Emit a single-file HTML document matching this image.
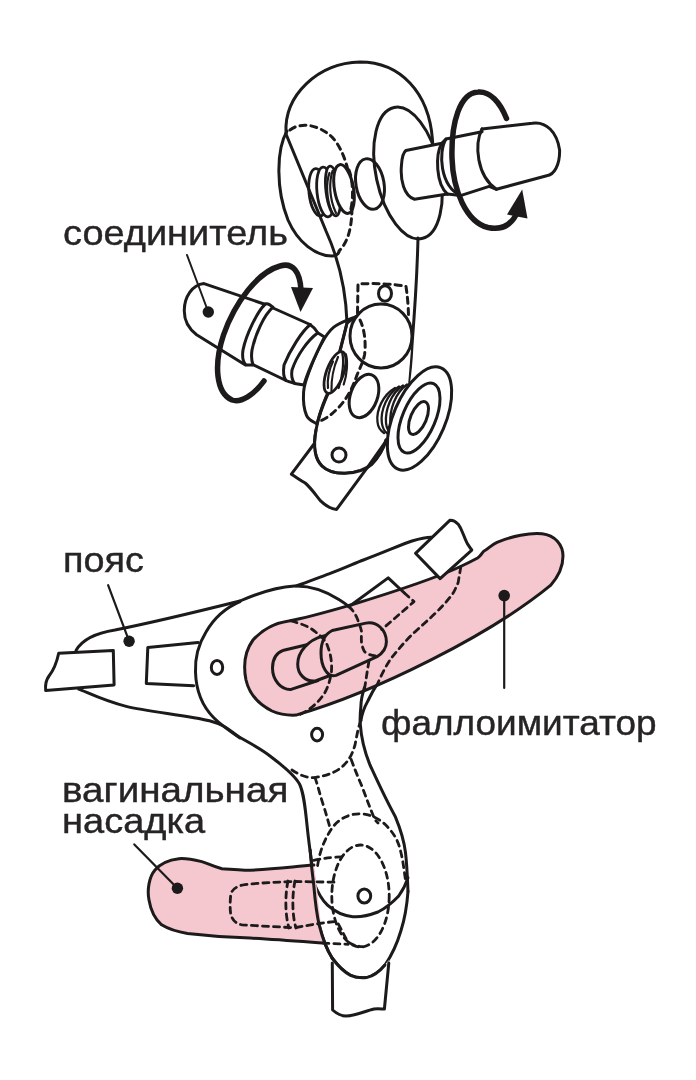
<!DOCTYPE html>
<html><head><meta charset="utf-8">
<style>
html,body{margin:0;padding:0;background:#fff;}
body{width:696px;height:1080px;overflow:hidden;position:relative;}
svg{position:absolute;left:0;top:0;}
.t{position:absolute;font-family:"Liberation Sans",sans-serif;font-size:35px;color:#262425;-webkit-text-stroke:0.4px #262425;white-space:nowrap;line-height:1;transform-origin:0 0;will-change:transform;}
</style></head><body>
<svg width="696" height="1080" viewBox="0 0 696 1080" fill="none" stroke="#1c1a1b" stroke-width="3" stroke-linecap="round" stroke-linejoin="round">
<!-- TOP ASSEMBLY -->
<g id="top">
  <!-- hook outer + neck fill -->
  <path fill="#fff" d="M286,133 C284,95 318,63 360,62 C400,62 428,92 431,132 L421,239 C418,280 414,320 412,360 L408,386 L330,390 C345,340 347,300 343,270 C336,240 320,210 300,165 Z" stroke="none"/>
  <path d="M286,133 C284,95 318,63 360,62 C400,62 429,92 432.5,140 L433,148"/>
  <!-- left ellipse solid -->
  <path d="M287,131 C276,150 276,190 288,220 C298,243 316,256 332,256 C336,256 338,254 339,252"/>
  <!-- dashed right side of left ellipse -->
  <path stroke-dasharray="6,5" d="M290,130 C300,122 318,124 332,137 C346,152 352,180 352,206 C352,228 348,242 339,251"/>
  <!-- threads -->
  <g fill="#fff" stroke-width="2.8">
  <ellipse cx="318" cy="192.3" rx="9" ry="23.8" transform="rotate(-6 318 192.3)"/>
  <ellipse cx="325.5" cy="192" rx="8.5" ry="25" transform="rotate(-6 325.5 192)"/>
  <ellipse cx="333" cy="191" rx="7" ry="25" transform="rotate(-7 333 191)"/>
  </g>
  <g stroke-width="2.2">
  <path d="M329.5,173 C326,182 326,198 332,213"/>
  <path d="M332.5,171 C329,182 329,198 336,213"/>
  </g>
  <ellipse cx="344" cy="189" rx="9.5" ry="24.7" fill="#fff" transform="rotate(-10 344 189)"/>
  <!-- body left edge -->
  <path d="M286,134 L326,231 C340,262 346,290 347,323"/>
  <path stroke-dasharray="6,5" d="M349,170 C353,180 354,200 350,212"/>
  <!-- big disc -->
  <ellipse cx="408" cy="173" rx="32" ry="67" fill="#fff" transform="rotate(-12 408 173)"/>
  <path d="M366,160 C368,180 372,200 380,207" stroke="none"/>
  <!-- washer -->
  <ellipse cx="370" cy="184" rx="14" ry="25.5" transform="rotate(-10 370 184)"/>
  <!-- body right edge -->
  <path d="M418,238 C417,280 414,320 412,345 C411,365 410,375 408,386"/>
  <!-- right shaft -->
  <path fill="#fff" d="M405.9,150.5 L441.8,143.3 L446,139 L482,131.8 L482,128.9 L532.3,123.2 C546,121 557,132 559.6,150 C560,165 554,175 546.7,175.7 L496.4,189.3 L489.2,186.4 L460.5,195.6 L447.5,194.1 L414.5,199.3 C404,196 400,180 401.5,164.8 C402,156 404,152 405.9,150.5 Z"/>
  <path d="M441.8,143.3 C435,155 436,184 447.5,194.1"/>
  <path d="M446,139 C438,152 440,186 460.5,195.6"/>
  <path d="M482,128.9 C474,145 477,176 496.4,189.3"/>
  <!-- right arrow -->
  <path stroke-width="5.5" d="M506.5,118.5 C500,102 490,91 478,92 C460,93 451,122 452,158 C453,190 466,222 488,227.5 C500,230 510,226 516,215"/>
  <path fill="#1c1a1b" stroke="none" d="M522.2,189.5 L507,214.5 L527.5,218.5 Z"/>
  <!-- lower plate fill -->
  <path fill="#fff" stroke="none" d="M330,389 L347,323 L412,337 L408,386 L386,443 C378,460 358,474 340,474 C320,472 310,455 316,424 Z"/>
  <!-- body circle -->
  <ellipse cx="381" cy="336" rx="31" ry="32"/>
  <!-- dashed rect -->
  <path stroke-dasharray="6,5" d="M357.5,313 L358,284 C375,283 395,284 406,286.5 C408,300 408.5,310 408.5,319"/>
  <ellipse cx="385" cy="293.5" rx="6.5" ry="7.8"/>
  <!-- dashed arc -->
  <path stroke-dasharray="6,5" d="M360,320 C365,330 366,345 364.5,355 C363,362 360,368 357,375 C352,390 345,402 336,410 C330,416 325,419 320,421"/>
  <!-- left disc -->
  <path fill="#fff" d="M356.0,316.5 C352.3,318.3 339.7,322.5 333.8,327.2 C327.9,331.9 324.9,337.4 320.9,344.5 C316.9,351.6 312.6,362.1 309.7,370.0 C306.8,377.9 304.1,384.4 303.6,392.0 C303.1,399.6 304.3,410.0 306.5,415.3 C308.7,420.6 315.2,422.6 317.0,424.0 C320,412 324,400 330,389 L347,323 Z"/>
  <!-- plate left edge -->
  <path d="M347,323 C342,345 335,370 330,389"/>
  <path d="M330,389 C324,402 318,418 316,430 C313,446 314,458 322,466 C332,476 358,476 372,464 C378,458 384,448 386,440"/>
  <circle cx="339" cy="455" r="7"/>
  <!-- threaded hole -->
  <ellipse cx="335" cy="372.5" rx="8.5" ry="22" transform="rotate(20 335 372.5)" fill="#fff" stroke-width="2.8"/>
  <g stroke-width="2.2">
  <path d="M333,361.5 C329,369 327,380 328,388"/>
  <path d="M338,357 C334,366 331,380 331.5,391"/>
  <path d="M342.3,353.6 C344,360 343,375 338.7,388"/>
  <path d="M345.9,354.3 C348,362 347,375 343.7,384.5"/>
  </g>
  <!-- small ellipse -->
  <ellipse cx="364" cy="396" rx="13.5" ry="22.5" transform="rotate(20 364 396)"/>
  <!-- left plug -->
  <path fill="#fff" d="M204,283.6 L264,304 C268,303 271,305 273,308 L310,324.5 C314,327 316,330 318,333 L324.5,337 C318,350 308,370 304,385 L294.6,383.4 C290,382 287,381 286,380.5 L253,364.7 C249,365 246,365 245,364.7 L196.6,334.7 C189,329 184,320 184.3,310 C184.5,297 192,285 204,283.6 Z"/>
  <path d="M265,304.4 C257,312 246,335 243,350 C242,357 243,362 245.7,364.7"/>
  <path d="M273,307.2 C264,315 255,335 252,350 C251,357 251.5,361 253,364.7"/>
  <path d="M310.4,324.5 C302,331 290,350 284,365 C283,372 284,378 286,380.5"/>
  <path d="M317.6,333 C308,340 297,355 292,370 C291,376 292,380 294.6,383.4"/>
  <circle cx="208.3" cy="312" r="5.7" fill="#1c1a1b" stroke="none"/>
  <path stroke-width="2" d="M187,255 L208.3,312"/>
  <!-- left arrow -->
  <path stroke-width="5.5" d="M264,381 C254,395 241,403 232,400 C216,393 213.5,365 223.5,335 C235,302 258,272 280,266 C293,262 300,272 301,290"/>
  <path fill="#1c1a1b" stroke="none" d="M291,287 L313,288 L300.5,312 Z"/>
  <!-- strip -->
  <path fill="#fff" stroke="none" d="M314,444 L291,474 C300,480 310,488 320,499 C327,506 332,509 337,509 L368,467 L386,440 C378,458 358,476 338,475 C322,474 312,462 314,444 Z"/>
  <path d="M314,444 L291.4,474.2 C296,477 300,480 305.2,483 C311,488 315,494 320.3,500.6 C326,506 331,509 336.6,509.4 L368,466.6 L386,441"/>
  <path d="M316,430 C313,446 314,458 322,466 C332,476 358,476 372,464 C378,458 384,448 386,440"/>
  <!-- suction cup threads -->
  <g stroke-width="2.3">
  <path d="M395,388 C383,395 376,410 377.5,422 C378,428 381,431 384,433"/>
  <path d="M399,386.5 C387,394 380.5,410 381.8,422.5 C382.5,429 385,432 388,434"/>
  <path d="M403,385.5 C391,393 385,410 386,423 C386.5,429 389,432 392,434.5"/>
  <path d="M407,384.5 C395,393 389.5,410 390.3,424 C390.5,430 393,433 396,435"/>
  </g>
  <!-- suction cup -->
  <ellipse cx="419.5" cy="418.5" rx="26" ry="55" fill="#fff" transform="rotate(23 419.5 418.5)"/>
  <ellipse cx="419" cy="418" rx="16.4" ry="37.4" transform="rotate(23 419 418)"/>
  <ellipse cx="418.5" cy="418" rx="7.9" ry="17.6" transform="rotate(23 418.5 418)"/>
</g>
<g id="bottom">
  <!-- ===== fills ===== -->
  <path id="dildo" fill="#f5c7cf" stroke="none" d="M288.7,621 C275,623 262,630 253,640 C245,651 243,665 246,680 C249,693 258,704 272,711 C280,714.5 288,715.5 296,715.1 C376,692 490,635 550.5,585.4 C558,577 563,567 563,556 C563,545 555,535 542,533.7 C530,532.5 512,536 497,542.3 C491,545 488,549 484,551 C481,554 481,556 477.6,558 C472,561 466,564 459.5,567 C440,576 400,590 351.6,604.8 C330,611 310,617 288.7,621 Z"/>
  <!-- capsules -->
  <g fill="#f5c7cf">
    <path d="M310,644 L283.7,650.2 C276,653 272.5,660 272.5,668 C272.5,680 281,690 291.1,689.4 L318,680.5 Z"/>
    <path d="M335,633 L322.9,636.1 C308,640 297.7,652 297.7,664.2 C297.7,674 305,682 315.4,681 L334,674 Z"/>
    <path d="M332.2,630.5 L365.9,623.1 C377,621 386.4,630 386.4,641.8 C386.4,648 383,653 377,656.7 L336,675.4 C327,678 321,666 321,653 C321,642 325,634 332.2,630.5 Z"/>
  </g>
  <!-- dashed lines in pink -->
  <g stroke-dasharray="6,5" stroke-width="2.8">
    <path d="M291.1,621 C302,624 310,627 315.6,632 C322,637 326,641 327.8,646.7 C331,655 332,663 331.5,671.1 C330,682 327,690 322.9,695.6 C317,704 308,711 298.5,715.1"/>
    <path d="M348.8,606.6 C353,610 355,614 356.6,617 C359,623 361,628 361.7,632.4 C361,640 361,645 364.5,651.6 C367,654 371,655.5 376,655.9"/>
    <path d="M404.4,593 L414,601.6 L381.7,629.6"/>
    <path d="M460.8,566.9 C460,572 459,577 458.2,582.4 C455,590 453,594 450.5,596.7 C440,610 428,620 416.2,630.7 C405,641 398,650 392.5,656.6 C386,665 381,676 377,685"/>
    <path d="M369,661 C367,672 366,680 364.5,689"/>
  </g>
  <!-- dildo outline -->
  <path d="M288.7,621 C275,623 262,630 253,640 C245,651 243,665 246,680 C249,693 258,704 272,711 C280,714.5 288,715.5 296,715.1 C376,692 490,635 550.5,585.4 C558,577 563,567 563,556 C563,545 555,535 542,533.7 C530,532.5 512,536 497,542.3 C491,545 488,549 484,551 C481,554 481,556 477.6,558 C472,561 466,564 459.5,567 C440,576 400,590 351.6,604.8 C330,611 310,617 288.7,621 Z"/>
  <!-- dot + pointer for dildo -->
  <circle cx="504.2" cy="595.6" r="5.8" fill="#1c1a1b" stroke="none"/>
  <path stroke-width="2.2" d="M504.2,595.6 L504.2,688"/>

  <!-- ===== belt ===== -->
  <path d="M76,650.4 C82,640 96,633 115,630 C160,621 200,611 240,601"/>
  <path d="M78.8,689.2 C86.7,692.1 104.4,701.1 126.2,706.4 C148.0,711.7 190.5,715.6 209.5,720.8 C228.5,726.0 229.9,731.6 240.0,737.5 C250.1,743.4 260.0,748.2 270.0,756.0 C280.0,763.8 293.5,773.3 299.5,784.0 C303.5,792 305,805 307,825 C309,845 312,865 314.0,880.0"/>
  <!-- buckle tab -->
  <path fill="#fff" d="M58.7,653.3 L113.3,650.4 L114.1,684.9 L45.7,690.6 C45,684 46,680 49,676 C53,671 56,666 58.7,653.3 Z"/>
  <!-- slot -->
  <path d="M198,642.6 L147.8,647.5 L146.3,683.4 L193.7,685.7"/>
  <!-- plate left edge -->
  <path d="M240,601.6 C225,608 214,618 206,632 C198,645 195,660 195.5,672 C196,690 202,706 214,718 C222,726 231,732 240,738"/>
  <ellipse cx="217" cy="667.4" rx="5.7" ry="7"/>
  <!-- plate top arc -->
  <path d="M240,601 C258,593 276,587 294.5,585.9 C310,585.5 326,591 339.3,599.7 C343,602 346,604 348.8,606.6"/>
  <!-- belt right top edge -->
  <path d="M296.2,585.9 C310,581 320,577 329,573.8 C345,568 355,563 363.4,560 C385,552 400,545 412,541 C420,538.5 427,537 432.3,537.2"/>
  <!-- small triangle tab solid -->
  <path d="M351.6,604.8 L388.2,577.9 L404.4,593"/>
  <!-- right tab -->
  <path fill="#fff" d="M415.5,553.3 L449.8,520.3 C453,520 456,522 458.2,524.2 C461,528 462,531 463.4,534.6 C465,539 466,541 467.3,543.6 C469,546 470,548 471.8,550.1 L440.1,578.6 Z"/>
  <!-- small hole below dildo -->
  <ellipse cx="317.1" cy="734.6" rx="5.5" ry="6.3"/>

  <!-- ===== crotch strap ===== -->
  <path d="M364.5,687.5 C362,695 361,700 360.9,706.2 C360,715 360,720 360.2,723.4 C361,735 363,748 370,765 C376,778 385,798 395.2,816.4 C400,828 404,840 405.5,852.6 C407,865 407.5,880 408,891.4"/>
  <path d="M376,686.1 C372,692 370,697 367.4,701.9 C364,708 362,714 360.9,720.6"/>
  <g stroke-dasharray="6,5" stroke-width="2.8">
    <path d="M360.9,720.6 C358,728 357,735 355,745 C352,755 349,760 344,765 C338,771 330,775 315,777.6 C305,778 298,774 291.7,769.8"/>
    <path d="M351.2,759.5 C355,770 358,777 361.5,785.3 C366,797 370,808 374.5,819 C376,821 377,822 378,823"/>
    <path d="M315,777.6 C318,786 320,795 322.8,803.4 C326,813 328,821 330.5,829.3"/>
    <path d="M317.6,865.5 C320,850 325,838 333.1,826.7 C340,818 350,814 359,813.8 C370,814 378,818 384.8,824.1 C393,832 398,840 400.3,850 C403,860 404,870 405.5,880"/>
  </g>
  <!-- lower plate -->
  <path d="M314,880 C315,900 316,912 319.4,925.9 C323,940 327,950 332.1,958 C338,966 344,972 350.5,975.3 C356,978 362,978 366.6,977.6 C374,976 380,971 385,965 C392,955 397,944 401,930.5 C405,918 407,905 408,891.4"/>
  <!-- bottom strap end -->
  <path fill="#fff" stroke="none" d="M332.1,960 L332.6,1010 C336,1013 340,1016 346,1016 C355,1016 365,1011 374,1009 C378,1008.5 382,1009 384.4,1009 L388.8,960 C380,972 372,977.6 362,978 C350,977 340,970 332.1,960 Z"/>
  <path d="M332.3,963 L332.6,1010 C336,1013 340,1016 346,1016 C355,1016 365,1011 374,1009 C378,1008.5 382,1009 384.4,1009 L388.8,963"/>
  <path d="M332.1,958 C338,966 344,972 350.5,975.3 C356,978 362,978 366.6,977.6 C374,976 380,971 385,965"/>
  <!-- lower plate front curve -->
  <path d="M313.7,882.2 C318,893 322,900 327.5,905.2 C335,912 345,916 352.8,916.7 C362,917.5 370,915 378,912 C386,908 393,902 398.7,896 C403,890 406,884 408,877.6"/>
  <g stroke-dasharray="6,5" stroke-width="2.8">
    <ellipse cx="360.5" cy="896" rx="28.7" ry="51"/>
  </g>
  <ellipse cx="364.3" cy="896" rx="6.4" ry="6.9"/>

  <!-- ===== vaginal insert ===== -->
  <path id="vins" fill="#f5c7cf" d="M313.9,865.1 C290,867 270,870 244.9,870.2 C235,870 228,869 222,868.8 C212,866 207,863 201.8,861.6 C195,860 185,858 178.9,858.7 C168,860 160,864 155,870 C149,877 147,890 149,900 C151,912 156,920 161.6,924.8 C170,930 178,932 187.5,933.4 C210,936 225,937 244.9,937.8 C270,939 295,941 322.9,943.1 L316,880 Z" stroke="none"/>
  <path d="M313.9,865.1 C290,867 270,870 244.9,870.2 C235,870 228,869 222,868.8 C212,866 207,863 201.8,861.6 C195,860 185,858 178.9,858.7 C168,860 160,864 155,870 C149,877 147,890 149,900 C151,912 156,920 161.6,924.8 C170,930 178,932 187.5,933.4 C210,936 225,937 244.9,937.8 C270,939 295,941 322.9,943.1"/>
  <g stroke-dasharray="6,5" stroke-width="2.8">
    <path d="M290.9,881.7 C275,882 260,883 244.9,884.6 C236,886 231,890 230.6,896.1 C230,903 230,909 230.6,913.3 C232,920 236,924 242.1,924.8 C260,926 280,927 293.8,927.7"/>
    <path d="M288,881 C285,895 285,915 289,928"/>
    <path d="M295,881 C292,895 292,915 296,928"/>
    <path d="M295,881.5 L334.4,882.2"/>
    <path d="M296,927.5 C310,925 320,923 336.7,921.3 C342,930 345,938 348.2,942 C352,945 356,946 362,946.6"/>
    <path d="M322.9,943.1 L348.2,944.3"/>
    <path d="M313.7,860.3 C325,858 335,857 343.6,856.9"/>
  </g>
  <!-- lower plate left edge over insert -->
  <path d="M310.2,850 C311,862 312,872 313.7,884.5 C315,900 316,912 319.4,925.9 C323,940 327,950 332.1,958"/>
  <circle cx="177.4" cy="888.3" r="5.7" fill="#1c1a1b" stroke="none"/>
  <path stroke-width="2.2" d="M134.3,844.4 L177.4,888.3"/>
  <!-- pointer for belt -->
  <circle cx="129.1" cy="641.2" r="5.7" fill="#1c1a1b" stroke="none"/>
  <path stroke-width="2.2" d="M108.1,585.2 L129.1,641.2"/>
</g>
</svg>
<div class="t" style="left:62.5px;top:214.8px;transform:scaleX(1.084)">соединитель</div>
<div class="t" style="left:62.5px;top:542.3px;transform:scaleX(1.08)">пояс</div>
<div class="t" style="left:381px;top:704.5px;transform:scaleX(1.056)">фаллоимитатор</div>
<div class="t" style="left:62px;top:772px;transform:scaleX(1.103)">вагинальная</div>
<div class="t" style="left:62.4px;top:802.5px;transform:scaleX(1.086)">насадка</div>
</body></html>
